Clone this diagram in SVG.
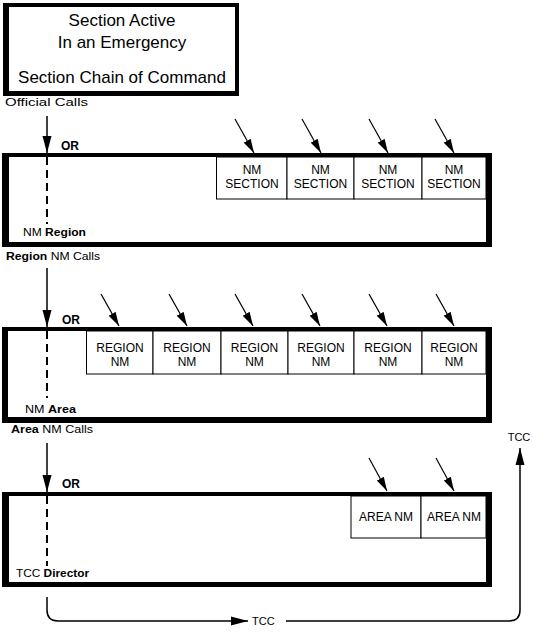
<svg xmlns="http://www.w3.org/2000/svg" width="533" height="632" viewBox="0 0 533 632">
<defs>
<style>
text{font-family:"Liberation Sans",Arial,sans-serif;fill:#000}
.big{font-size:17px;text-anchor:middle}
.lbl{font-size:11px}
.cell{font-size:12px;text-anchor:middle}
.or{font-size:12px;font-weight:bold}
.frame{fill:#000;fill-rule:evenodd;stroke:none}
.cellbox{fill:#fff;stroke:#000;stroke-width:1}
.arr{stroke:#000;stroke-width:1.5;fill:none;marker-end:url(#big)}
.diag{stroke:#000;stroke-width:1.2;fill:none;marker-end:url(#small)}
.dash{stroke:#000;stroke-width:2;stroke-dasharray:8 5;fill:none}
b{font-weight:bold}
</style>
<marker id="big" markerUnits="userSpaceOnUse" markerWidth="17" markerHeight="10" refX="17" refY="5" orient="auto">
<path d="M0,0.5 L17,5 L0,9.5 z" fill="#000"/>
</marker>
<marker id="small" markerUnits="userSpaceOnUse" markerWidth="14" markerHeight="9" refX="14" refY="4.5" orient="auto">
<path d="M0,0.5 L14,4.5 L0,8.5 z" fill="#000"/>
</marker>
</defs>
<rect x="0" y="0" width="533" height="632" fill="#fff"/>

<g id="top-box">
<path class="frame" d="M3,3 H239 V96 H3 Z M9,7 V91 H235 V7 Z"/>
<text class="big" x="122" y="26">Section Active</text>
<text class="big" x="122" y="48">In an Emergency</text>
<text class="big" x="122" y="83">Section Chain of Command</text>
</g>
<text class="lbl" x="5" y="106" textLength="83" lengthAdjust="spacingAndGlyphs">Official Calls</text>

<g id="section-box">
<path class="frame" d="M2,153 H492 V247 H2 Z M9,157 V242 H486 V157 Z"/>
<text class="or" x="61" y="150">OR</text>
<text class="lbl" x="23" y="236" textLength="63" lengthAdjust="spacingAndGlyphs">NM <tspan font-weight="bold">Region</tspan></text>
</g>
<g id="nm-section-1"><rect class="cellbox" x="216.5" y="157" width="70.5" height="42"/><text class="cell" x="252" y="174">NM</text><text class="cell" x="252" y="188">SECTION</text></g>
<g id="nm-section-2"><rect class="cellbox" x="287" y="157" width="67" height="42"/><text class="cell" x="320.5" y="174">NM</text><text class="cell" x="320.5" y="188">SECTION</text></g>
<g id="nm-section-3"><rect class="cellbox" x="354" y="157" width="68" height="42"/><text class="cell" x="388" y="174">NM</text><text class="cell" x="388" y="188">SECTION</text></g>
<g id="nm-section-4"><rect class="cellbox" x="422" y="157" width="64" height="42"/><text class="cell" x="454" y="174">NM</text><text class="cell" x="454" y="188">SECTION</text></g>
<text class="lbl" x="6" y="260" textLength="94" lengthAdjust="spacingAndGlyphs"><tspan font-weight="bold">Region</tspan> NM Calls</text>

<g id="region-box">
<path class="frame" d="M2,327 H492 V423 H2 Z M8,331 V417 H486 V331 Z"/>
<text class="or" x="62" y="324">OR</text>
<text class="lbl" x="25" y="413" textLength="51" lengthAdjust="spacingAndGlyphs">NM <tspan font-weight="bold">Area</tspan></text>
</g>
<g id="region-nm-1"><rect class="cellbox" x="86.5" y="331" width="66.5" height="43"/><text class="cell" x="120" y="352">REGION</text><text class="cell" x="120" y="366">NM</text></g>
<g id="region-nm-2"><rect class="cellbox" x="153" y="331" width="68" height="43"/><text class="cell" x="187" y="352">REGION</text><text class="cell" x="187" y="366">NM</text></g>
<g id="region-nm-3"><rect class="cellbox" x="221" y="331" width="67" height="43"/><text class="cell" x="254.5" y="352">REGION</text><text class="cell" x="254.5" y="366">NM</text></g>
<g id="region-nm-4"><rect class="cellbox" x="288" y="331" width="66" height="43"/><text class="cell" x="321" y="352">REGION</text><text class="cell" x="321" y="366">NM</text></g>
<g id="region-nm-5"><rect class="cellbox" x="354" y="331" width="68" height="43"/><text class="cell" x="388" y="352">REGION</text><text class="cell" x="388" y="366">NM</text></g>
<g id="region-nm-6"><rect class="cellbox" x="422" y="331" width="64" height="43"/><text class="cell" x="454" y="352">REGION</text><text class="cell" x="454" y="366">NM</text></g>
<text class="lbl" x="11" y="433" textLength="82" lengthAdjust="spacingAndGlyphs"><tspan font-weight="bold">Area</tspan> NM Calls</text>

<g id="area-box">
<path class="frame" d="M2,492 H492 V587 H2 Z M9,496 V582 H486 V496 Z"/>
<text class="or" x="62" y="488">OR</text>
<text class="lbl" x="16" y="577" textLength="73" lengthAdjust="spacingAndGlyphs">TCC <tspan font-weight="bold">Director</tspan></text>
</g>
<g id="area-nm-1"><rect class="cellbox" x="351" y="496" width="70" height="42"/><text class="cell" x="386" y="521">AREA NM</text></g>
<g id="area-nm-2"><rect class="cellbox" x="421" y="496" width="65" height="42"/><text class="cell" x="454" y="521">AREA NM</text></g>

<text class="lbl" x="519" y="441" text-anchor="middle">TCC</text>
<text class="lbl" x="252" y="625">TCC</text>

<g id="connectors">
<line class="arr" x1="47" y1="116" x2="47" y2="153"/>
<line class="arr" x1="47" y1="268" x2="47" y2="327"/>
<line class="arr" x1="47" y1="443" x2="47" y2="492"/>
<line class="dash" x1="47" y1="157" x2="47" y2="224"/>
<line class="dash" x1="47" y1="331" x2="47" y2="398"/>
<line class="dash" x1="47" y1="496" x2="47" y2="566"/>
<line class="diag" x1="235" y1="119" x2="254" y2="153"/>
<line class="diag" x1="302" y1="119" x2="321" y2="153"/>
<line class="diag" x1="369" y1="119" x2="388" y2="153"/>
<line class="diag" x1="435" y1="119" x2="454" y2="153"/>
<line class="diag" x1="101" y1="294" x2="119" y2="326"/>
<line class="diag" x1="169" y1="294" x2="187" y2="326"/>
<line class="diag" x1="235" y1="294" x2="253" y2="326"/>
<line class="diag" x1="302" y1="294" x2="320" y2="326"/>
<line class="diag" x1="369" y1="294" x2="387" y2="326"/>
<line class="diag" x1="436" y1="294" x2="454" y2="326"/>
<line class="diag" x1="369" y1="458" x2="387" y2="491"/>
<line class="diag" x1="436" y1="458" x2="454" y2="491"/>
<path class="arr" d="M47,597 V610 Q47,621 58,621 H248"/>
<path class="arr" d="M286,621 H509 Q520,621 520,610 V448"/>
</g>
</svg>
